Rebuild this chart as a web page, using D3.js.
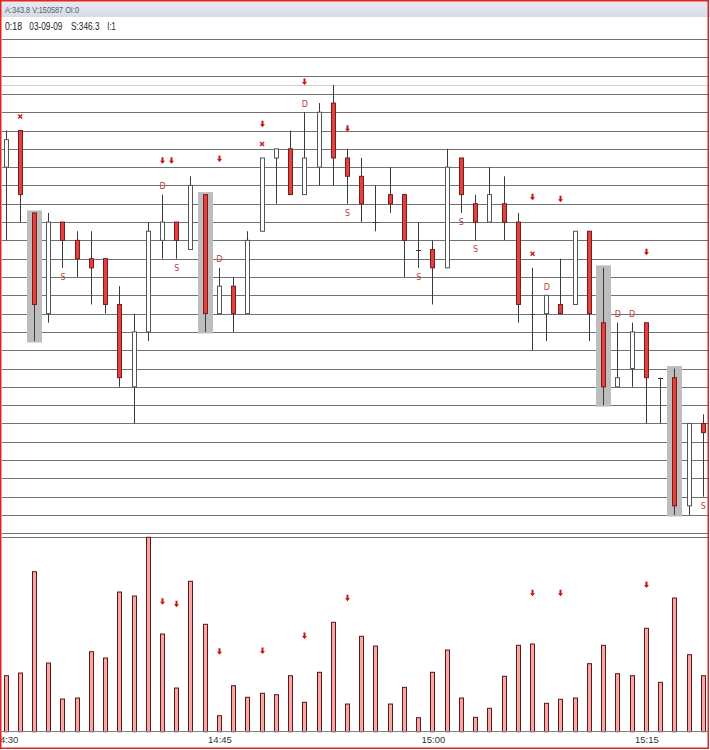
<!DOCTYPE html>
<html><head><meta charset="utf-8">
<script src="https://cdn.jsdelivr.net/npm/d3@7/dist/d3.min.js"></script>
<style>html,body{margin:0;padding:0;background:#fff;}svg{display:block;}</style>
</head><body>
<svg id="c" width="710" height="750"></svg>
<script>
const times = ["14:30","14:31","14:32","14:33","14:34","14:35","14:36","14:37","14:38","14:39",
"14:40","14:41","14:42","14:43","14:44","14:45","14:46","14:47","14:48","14:49",
"14:50","14:51","14:52","14:53","14:54","14:55","14:56","14:57","14:58","14:59",
"15:00","15:01","15:02","15:03","15:04","15:05","15:06","15:07","15:08","15:09",
"15:10","15:11","15:12","15:13","15:14","15:15","15:16","15:17","15:18","15:19"];
const open  = [344.0,344.4,343.5,342.4,343.4,343.2,343.0,343.0,342.5,341.6,
342.2,343.2,343.4,343.1,343.7,342.4,342.7,342.4,343.3,344.1,
344.2,343.7,344.0,344.7,344.1,343.9,343.4,343.7,343.7,343.1,
343.1,342.9,344.1,343.6,343.4,343.6,343.4,342.4,342.4,342.5,
342.5,343.3,342.3,341.6,341.8,342.3,341.7,341.7,340.3,341.2];
const high  = [344.4,344.4,343.5,343.5,343.4,343.3,343.3,343.0,342.7,342.4,
343.4,343.7,343.4,343.9,343.7,342.9,342.8,343.3,344.1,344.2,
344.4,344.6,344.7,344.9,344.2,344.1,343.8,344.0,343.7,343.4,
343.2,344.2,344.1,343.7,344.0,343.9,343.5,342.9,342.6,343.0,
343.3,343.3,342.9,342.3,342.3,342.3,341.7,341.8,341.2,341.3];
const low   = [343.2,343.4,342.1,342.3,342.9,342.8,342.5,342.4,341.6,341.2,
342.1,343.0,343.0,343.1,342.2,342.4,342.2,342.4,343.3,343.6,
343.7,343.7,343.8,343.8,343.6,343.4,343.3,343.5,342.8,342.9,
342.5,342.9,343.5,343.2,343.4,343.2,342.3,342.0,342.1,342.4,
342.5,342.1,341.4,341.6,341.6,341.2,341.2,340.2,340.2,340.4];
const close = [344.3,343.7,342.5,343.4,343.2,343.0,342.9,342.5,341.7,342.2,
343.3,343.4,343.2,343.8,342.4,342.7,342.4,343.2,344.1,344.2,
343.7,344.1,344.6,344.1,343.9,343.6,343.4,343.6,343.2,343.1,
342.9,344.0,343.7,343.4,343.7,343.4,342.5,342.4,342.6,342.4,
343.3,342.4,341.6,341.7,342.2,341.7,341.7,340.3,341.2,341.1];
const volume = [840,880,2400,1030,490,505,1200,1105,2095,2035,
2916,1465,655,2256,1611,240,690,516,576,555,
840,441,891,1641,415,1431,1285,415,666,210,
891,1225,505,216,351,831,1296,1315,426,486,
505,1020,1296,870,840,1551,741,2005,1155,840];
const highlighted = [2,14,42,47];
const dLabels = [11,15,21,38,43,44];
const sLabels = [4,12,24,29,32,33,49];
const crossMarks = [1,18,37];
const priceArrowIdx = [11,11.6,15,18,21,24,37,39,45];
const priceArrowVal = [344.07,344.07,344.09,344.47,344.93,344.42,343.67,343.65,343.07];
const volArrowIdx = [11,12,15,18,21,24,37,39,45];
const volArrowVal = [1950,1911,1200,1210,1435,2001,2076,2076,2200];
const markerLevel = 344.9;
const headerInfo = "A:343.8 V:150587 OI:0";
const infoItems = ["0:18","03-09-09","S:346.3","I:1"];
const tickTimes = ["14:30","14:45","15:00","15:15"];

const svg = d3.select("#c");
const W = 710;
const parse = d3.timeParse("%H:%M");
const tDates = times.map(parse);
const xT = d3.scaleTime().domain([tDates[0], tDates[tDates.length-1]]).range([5.5, 702.8]);
const xI = d3.scaleLinear().domain([0, times.length-1]).range([5.5, 702.8]);
const y = d3.scaleLinear().domain([340.0, 345.4]).range([533.3, 39]);
const yv = d3.scaleLinear().domain([0, d3.max(volume)]).range([731.7, 537.3]);
const px = v => Math.round(v) + 0.5;

// header
const defs = svg.append("defs");
const g = defs.append("linearGradient").attr("id","hg").attr("x1",0).attr("y1",0).attr("x2",0).attr("y2",1);
g.append("stop").attr("offset","0").attr("stop-color","#e9ecf2");
g.append("stop").attr("offset","1").attr("stop-color","#d6dbe4");
svg.append("rect").attr("x",0).attr("y",0).attr("width",W).attr("height",17).attr("fill","url(#hg)");
svg.append("text").attr("x",5).attr("y",12.5).attr("font-family","Liberation Sans, Arial, sans-serif")
  .attr("font-size",9).attr("fill","#555c6a").attr("textLength",74).attr("lengthAdjust","spacingAndGlyphs").text(headerInfo);
const infoX = [5,29.3,71,107.3], infoW = [17,33,28.5,8.4];
infoItems.forEach((t,i)=>{
  svg.append("text").attr("x",infoX[i]).attr("y",29.5).attr("font-family","Liberation Sans, Arial, sans-serif")
    .attr("font-size",10.5).attr("fill","#222").attr("textLength",infoW[i]).attr("lengthAdjust","spacingAndGlyphs").text(t);
});

// gridlines
const gridVals = y.ticks(27);
svg.append("g").selectAll("line").data(gridVals).join("line")
  .attr("x1",2).attr("x2",708).attr("y1",d=>px(y(d))).attr("y2",d=>px(y(d)))
  .attr("stroke","#727272").attr("stroke-width",1);
svg.append("line").attr("x1",2).attr("x2",708).attr("y1",px(y(markerLevel))).attr("y2",px(y(markerLevel)))
  .attr("stroke","#cfcfcf").attr("stroke-width",1);
// volume panel top
svg.append("line").attr("x1",2).attr("x2",708).attr("y1",537.5).attr("y2",537.5).attr("stroke","#727272");

const idx = d3.range(times.length);
// highlights
svg.append("g").selectAll("rect").data(highlighted).join("rect")
  .attr("x",i=>Math.round(xI(i))-7).attr("width",15)
  .attr("y",i=>y(high[i])-2.5).attr("height",i=>y(low[i])-y(high[i])+4)
  .attr("fill","#bdbdbd");

// wicks
const cg = svg.append("g");
cg.selectAll("line").data(idx).join("line")
  .attr("x1",i=>px(xI(i))).attr("x2",i=>px(xI(i)))
  .attr("y1",i=>y(high[i])).attr("y2",i=>y(low[i]))
  .attr("stroke","#3a3a3a").attr("stroke-width",1);
// bodies
cg.selectAll("rect").data(idx.filter(i=>open[i]!==close[i])).join("rect")
  .attr("x",i=>Math.round(xI(i))-2+0.5).attr("width",4)
  .attr("y",i=>y(Math.max(open[i],close[i])))
  .attr("height",i=>Math.abs(y(open[i])-y(close[i])))
  .attr("fill",i=>close[i]>open[i]?"#ffffff":"#e5403e")
  .attr("stroke",i=>close[i]>open[i]?"#555":"#7a1c1c").attr("stroke-width",1);
// doji ticks
cg.selectAll("line.doji").data(idx.filter(i=>open[i]===close[i])).join("line").attr("class","doji")
  .attr("x1",i=>Math.round(xI(i))-2).attr("x2",i=>Math.round(xI(i))+3)
  .attr("y1",i=>px(y(open[i]))).attr("y2",i=>px(y(open[i])))
  .attr("stroke","#3a3a3a");

// D / S labels
const lab = svg.append("g").attr("font-family","DejaVu Sans, sans-serif").attr("font-size",8).attr("fill","#c43a3a").attr("text-anchor","middle");
lab.selectAll("text.d").data(dLabels).join("text").attr("class","d")
  .attr("x",i=>xI(i)+0.5).attr("y",i=>y(high[i])-5.5).text("D");
lab.selectAll("text.s").data(sLabels).join("text").attr("class","s")
  .attr("x",i=>xI(i)+0.5).attr("y",i=>y(low[i])+12).text("S");

// cross marks
const cm = svg.append("g").attr("stroke","#cc1a1a").attr("stroke-width",1.4);
crossMarks.forEach(i=>{
  const cx = xI(i)+0.5, cy = y(high[i])-14;
  cm.append("line").attr("x1",cx-2).attr("y1",cy-2).attr("x2",cx+2).attr("y2",cy+2);
  cm.append("line").attr("x1",cx-2).attr("y1",cy+2).attr("x2",cx+2).attr("y2",cy-2);
});

// arrows
function arrow(sel, cx, cy){
  cx = Math.round(cx)+0.5;
  sel.append("path").attr("d",`M${cx-1},${cy-3.5}H${cx+1}V${cy}H${cx+2.5}L${cx},${cy+3}L${cx-2.5},${cy}H${cx-1}Z`)
    .attr("fill","#cc1212");
}
const ag = svg.append("g");
priceArrowIdx.forEach((i,k)=>arrow(ag, xI(i), y(priceArrowVal[k])));
volArrowIdx.forEach((i,k)=>arrow(ag, xI(i), yv(volArrowVal[k])));

// volume bars
svg.append("g").selectAll("rect").data(idx).join("rect")
  .attr("x",i=>Math.round(xI(i))-2+0.5).attr("width",4)
  .attr("y",i=>yv(volume[i])).attr("height",i=>yv(0)-yv(volume[i]))
  .attr("fill","#f9a6a6").attr("stroke","#5e1717").attr("stroke-width",1);
svg.append("line").attr("x1",2).attr("x2",708).attr("y1",731.5).attr("y2",731.5).attr("stroke","#808080");

// time axis
const ax = d3.axisBottom(xT).tickValues(tickTimes.map(parse)).tickFormat(d3.timeFormat("%H:%M")).tickSize(0).tickPadding(0);
const axg = svg.append("g").attr("transform","translate(0.5,731.7)").call(ax);
axg.select(".domain").remove();
axg.selectAll("text").attr("font-family","Liberation Sans, Arial, sans-serif").attr("font-size",9.5).attr("fill","#333").attr("dy","0").attr("y",11);

// red border
svg.append("rect").attr("x",0.75).attr("y",0.75).attr("width",707.5).attr("height",747.5)
  .attr("fill","none").attr("stroke","#e42222").attr("stroke-width",1.5);
</script>
</body></html>
